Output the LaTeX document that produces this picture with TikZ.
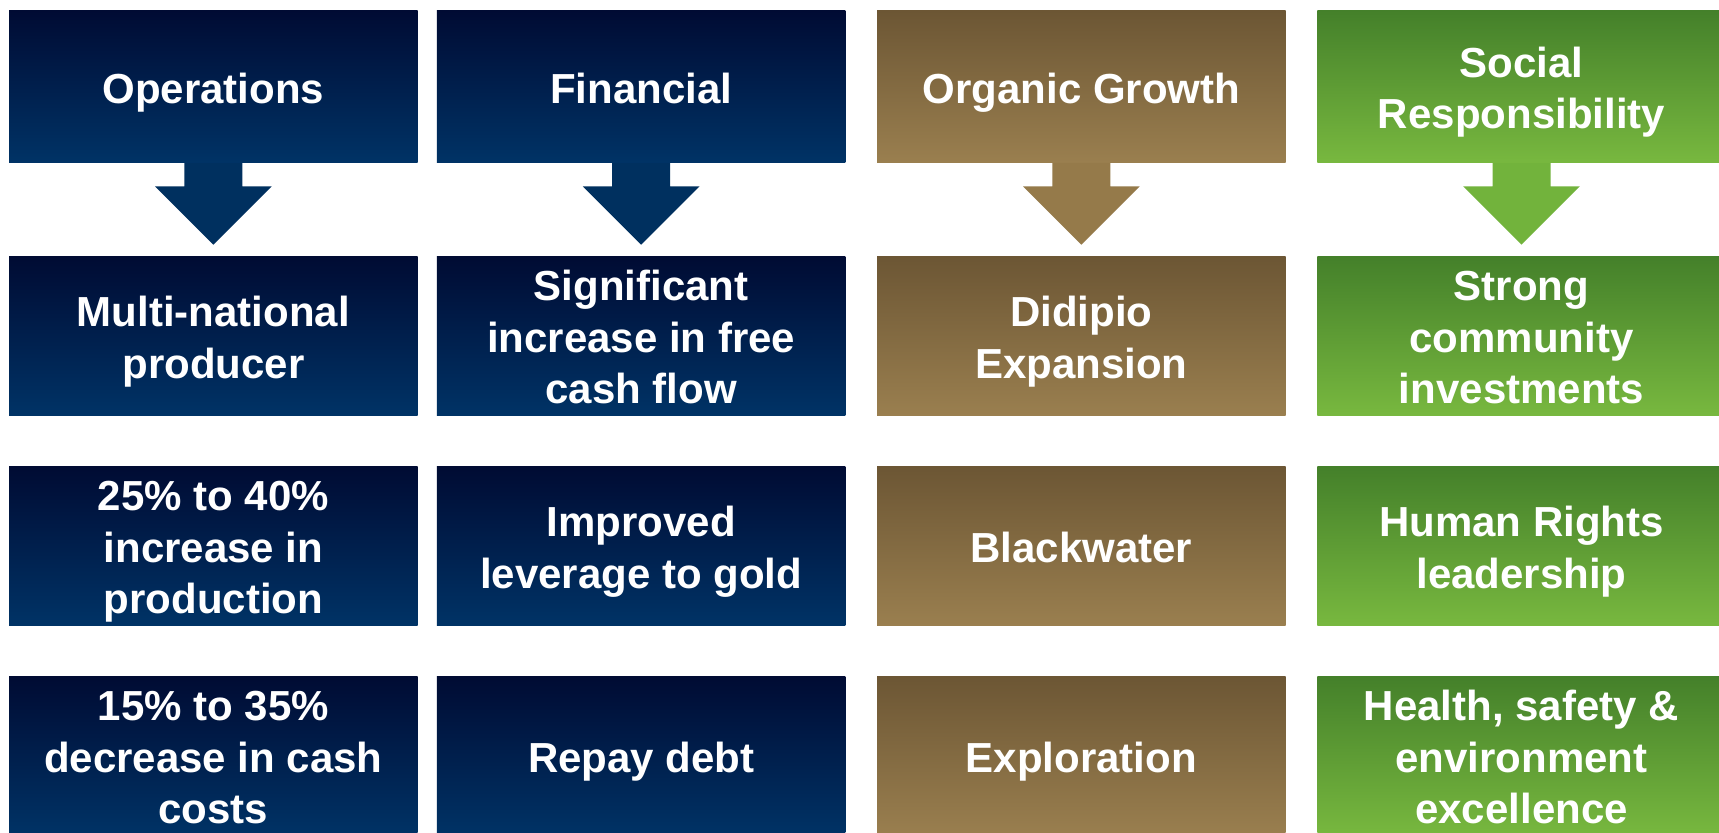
\documentclass[tikz,border=0pt]{standalone}
\usepackage{fontspec}
\setmainfont{Liberation Sans}
\usetikzlibrary{calc}

\definecolor{navyTop}{HTML}{000B33}
\definecolor{navyBot}{HTML}{003366}
\definecolor{navyArr}{HTML}{00305F}
\definecolor{brownTop}{HTML}{6C5634}
\definecolor{brownBot}{HTML}{9A7F4F}
\definecolor{brownArr}{HTML}{957A4A}
\definecolor{greenTop}{HTML}{44802A}
\definecolor{greenBot}{HTML}{78B83F}
\definecolor{greenArr}{HTML}{72B33C}

% centred lines with uniform line boxes
\newcommand{\cardlines}[1]{\begin{tabular}{@{}c@{}}#1\end{tabular}}

\tikzset{
  card/.style={rectangle, inner sep=0pt, minimum width=204.25pt, text=white,
    font=\fontsize{21}{25.75}\selectfont\bfseries},
  headcard/.style={card, minimum height=76pt},
  itemcard/.style={card, minimum height=79.85pt},
  navycard/.style={top color=navyTop, bottom color=navyBot},
  browncard/.style={top color=brownTop, bottom color=brownBot},
  greencard/.style={top color=greenTop, bottom color=greenBot},
  label/.style={anchor=center, text=white, inner sep=0pt, yshift=-3.1pt,
    font=\fontsize{21}{25.75}\selectfont\bfseries},
}

% block arrow hanging below a heading card
\newcommand{\hangarrow}[2]{%
  \fill[#2] (#1.south) ++(-29,0) -- ++(0,23.5) -- ++(-29.3,0)
    -- ++(58.3,58.3) -- ++(58.3,-58.3) -- ++(-29.3,0) -- ++(0,-23.5) -- cycle;}

\begin{document}
\begin{tikzpicture}[x=0.5pt, y=-0.5pt]
  \useasboundingbox (0,0) rectangle (1719,832);
  \clip (0,0) rectangle (1719,832);
  \fill[white] (0,0) rectangle (1719,832);

  % Operations column
  \node[headcard, navycard] (ops) at (213.4,86.5) {};
  \node[itemcard, navycard] (ops1) at (213.4,335.85) {};
  \node[itemcard, navycard] (ops2) at (213.4,545.85) {};
  \node[itemcard, navycard] (ops3) at (213.4,755.85) {};

  % Financial column
  \node[headcard, navycard] (fin) at (641.2,86.5) {};
  \node[itemcard, navycard] (fin1) at (641.2,335.85) {};
  \node[itemcard, navycard] (fin2) at (641.2,545.85) {};
  \node[itemcard, navycard] (fin3) at (641.2,755.85) {};

  % Organic growth column
  \node[headcard, browncard] (org) at (1081.4,86.5) {};
  \node[itemcard, browncard] (org1) at (1081.4,335.85) {};
  \node[itemcard, browncard] (org2) at (1081.4,545.85) {};
  \node[itemcard, browncard] (org3) at (1081.4,755.85) {};

  % Social responsibility column
  \node[headcard, greencard] (soc) at (1521.5,86.5) {};
  \node[itemcard, greencard] (soc1) at (1521.5,335.85) {};
  \node[itemcard, greencard] (soc2) at (1521.5,545.85) {};
  \node[itemcard, greencard] (soc3) at (1521.5,755.85) {};

  % card texts
  \node[label] (tops)  at (ops)  {\cardlines{Operations}};
  \node[label] (tops1) at (ops1) {\cardlines{Multi-national\\producer}};
  \node[label] (tops2) at (ops2) {\cardlines{25\% to 40\%\\increase in\\production}};
  \node[label] (tops3) at (ops3) {\cardlines{15\% to 35\%\\decrease in cash\\costs}};

  \node[label] (tfin)  at (fin)  {\cardlines{Financial}};
  \node[label] (tfin1) at (fin1) {\cardlines{Significant\\increase in free\\cash flow}};
  \node[label] (tfin2) at (fin2) {\cardlines{Improved\\leverage to gold}};
  \node[label] (tfin3) at (fin3) {\cardlines{Repay debt}};

  \node[label] (torg)  at (org)  {\cardlines{Organic Growth}};
  \node[label] (torg1) at (org1) {\cardlines{Didipio\\Expansion}};
  \node[label] (torg2) at (org2) {\cardlines{Blackwater}};
  \node[label] (torg3) at (org3) {\cardlines{Exploration}};

  \node[label] (tsoc)  at (soc)  {\cardlines{Social\\Responsibility}};
  \node[label] (tsoc1) at (soc1) {\cardlines{Strong\\community\\investments}};
  \node[label] (tsoc2) at (soc2) {\cardlines{Human Rights\\leadership}};
  \node[label] (tsoc3) at (soc3) {\cardlines{Health, safety \&\\environment\\excellence}};

  % arrows from the headings
  \hangarrow{ops}{navyArr}
  \hangarrow{fin}{navyArr}
  \hangarrow{org}{brownArr}
  \hangarrow{soc}{greenArr}
\end{tikzpicture}
\end{document}
